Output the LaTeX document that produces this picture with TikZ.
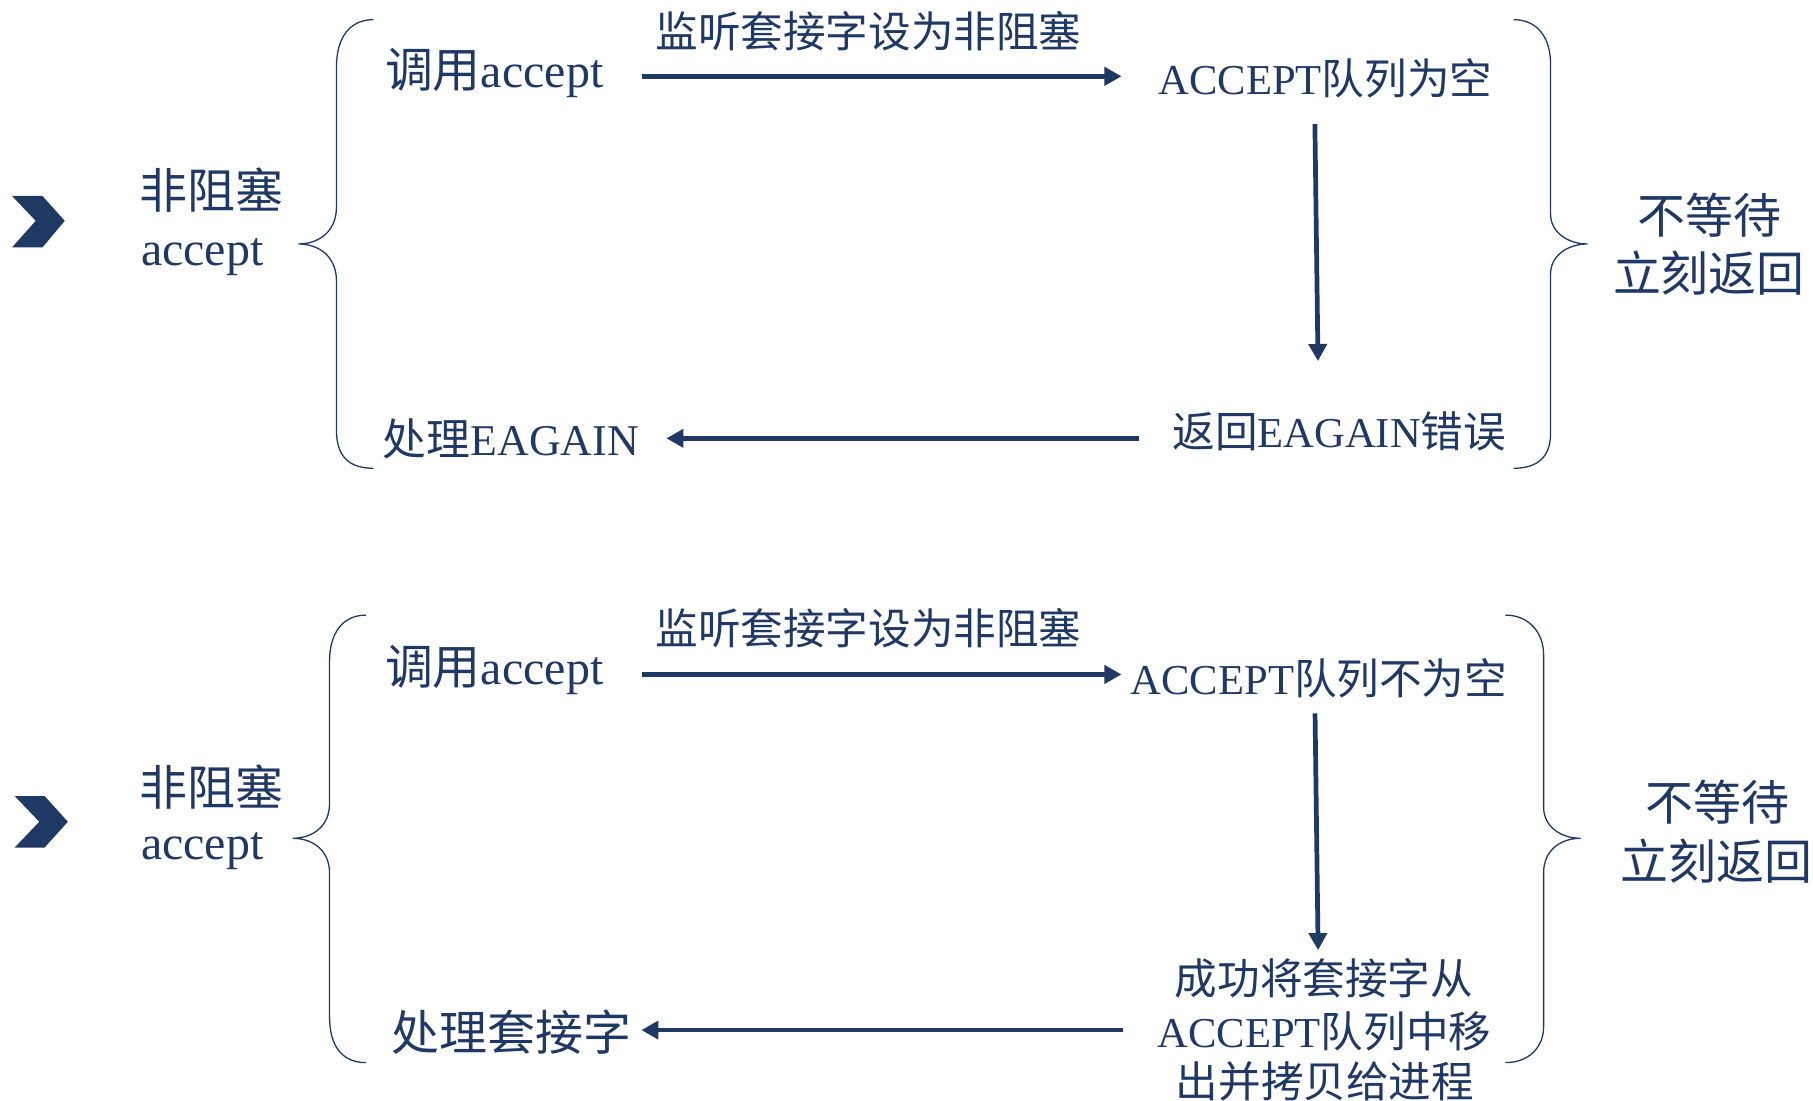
\documentclass[tikz,border=0pt]{standalone}
\usepackage{fontspec}
\setmainfont{Liberation Serif}
\newfontfamily\cjk{Noto Sans CJK SC}
\usetikzlibrary{arrows.meta,calc}
\definecolor{navy}{HTML}{203864}
\begin{document}
\begin{tikzpicture}[x=0.025cm,y=-0.025cm,
  txt/.style={inner sep=0pt, outer sep=0pt, text=navy, anchor=west},
  big/.style={txt, font=\fontsize{29.5}{35}\selectfont, text height=25.96pt, text depth=3.54pt},
  mid/.style={txt, font=\fontsize{26.2}{31}\selectfont, text height=23.06pt, text depth=3.14pt},
  midb/.style={txt, font=\fontsize{27}{32}\selectfont, text height=23.76pt, text depth=3.24pt},
  ctr/.style={anchor=center},
  arr/.style={draw=navy, line width=2.9pt, -{Triangle[length=10.5pt,width=11pt]}},
  brace/.style={draw=navy, line width=0.8pt},
  chev/.style={fill=navy}
]
\useasboundingbox (0,0) rectangle (1568,952);

% chevrons
\fill[chev] (10.4,169.5) -- (36.7,169.5) -- (56,191) -- (36.7,214) -- (10.4,214) -- (30.9,191) -- cycle;
\fill[chev] (12.7,688.5) -- (38.6,688.5) -- (58.7,710.7) -- (38.6,733) -- (12.7,733) -- (34,710.7) -- cycle;

% braces
\draw[brace] (323,17) .. controls (302,17) and (291,33) .. (291,58) -- (291,179) .. controls (291,200) and (276,211) .. (258,211) .. controls (276,211) and (291,222) .. (291,243) -- (291,372) .. controls (291,395) and (302,405) .. (323,405);
\draw[brace] (1309,17) .. controls (1330,17) and (1341,33) .. (1341,55) -- (1341,185) .. controls (1341,201) and (1356,211) .. (1373,211) .. controls (1356,211) and (1341,221) .. (1341,237) -- (1341,375) .. controls (1341,395) and (1330,405) .. (1309,405);
\draw[brace] (316.5,532) .. controls (296,532) and (285,548) .. (285,572) -- (285,695) .. controls (285,715) and (270,725) .. (253,725) .. controls (270,725) and (285,735) .. (285,755) -- (285,879) .. controls (285,905) and (296,919) .. (316.5,919);
\draw[brace] (1302,532) .. controls (1323,532) and (1335,548) .. (1335,566) -- (1335,698) .. controls (1335,715) and (1350,725) .. (1367,725) .. controls (1350,725) and (1335,735) .. (1335,755) -- (1335,888) .. controls (1335,905) and (1323,919) .. (1302,919);

% top half
\node[big] (nb1) at (121,164.3) {\cjk 非阻塞};
\node[big] (ac1) at (122,213.5) {accept};
\node[big] (call1) at (333,59.8) {{\cjk 调用}accept};
\node[mid] (lbl1) at (567,27) {\cjk 监听套接字设为非阻塞};
\node[mid] (q1) at (1002,68) {ACCEPT{\cjk 队列为空}};
\node[mid] (ret1) at (1014,372.6) {{\cjk 返回}EAGAIN{\cjk 错误}};
\node[midb] (h1) at (331,379.1) {{\cjk 处理}EAGAIN};
\node[big,ctr] (nw1a) at (1478.6,186.2) {\cjk 不等待};
\node[big,ctr] (nw1b) at (1478,236.4) {\cjk 立刻返回};

\draw[arr] ($(q1.west -| call1.east)+(33,-2)$) -- ($(q1.west)+(-32,-2)$);
\draw[arr] ($(q1.south)+(-9.1,21)$) -- ($(ret1.north)+(-18.4,-41.9)$);
\draw[arr] ($(ret1.west |- h1.east)+(-29,0)$) -- ($(h1.east)+(23.9,0)$);

% bottom half
\node[big] (nb2) at (121,681.1) {\cjk 非阻塞};
\node[big] (ac2) at (122,727.7) {accept};
\node[big] (call2) at (333,575.9) {{\cjk 调用}accept};
\node[mid] (lbl2) at (567,543) {\cjk 监听套接字设为非阻塞};
\node[mid] (q2) at (978,586.3) {ACCEPT{\cjk 队列不为空}};
\node[mid,ctr] (s2a) at (1145,846) {\cjk 成功将套接字从};
\node[mid,ctr] (s2b) at (1145.5,892) {ACCEPT{\cjk 队列中移}};
\node[mid,ctr] (s2c) at (1146,935) {\cjk 出并拷贝给进程};
\node[big] (h2) at (339,892.7) {\cjk 处理套接字};
\node[big,ctr] (nw2a) at (1485,694) {\cjk 不等待};
\node[big,ctr] (nw2b) at (1484.5,745.3) {\cjk 立刻返回};

\draw[arr] ($(q2.west -| call2.east)+(33,-3)$) -- ($(q2.west)+(-8,-3)$);
\draw[arr] ($(q2.south)+(-3.4,12.2)$) -- ($(s2a.north)+(-5,-5.8)$);
\draw[arr] ($(s2b.west)+(-30,-1.1)$) -- ($(h2.east |- s2b.west)+(8.3,-1.1)$);
\end{tikzpicture}
\end{document}
